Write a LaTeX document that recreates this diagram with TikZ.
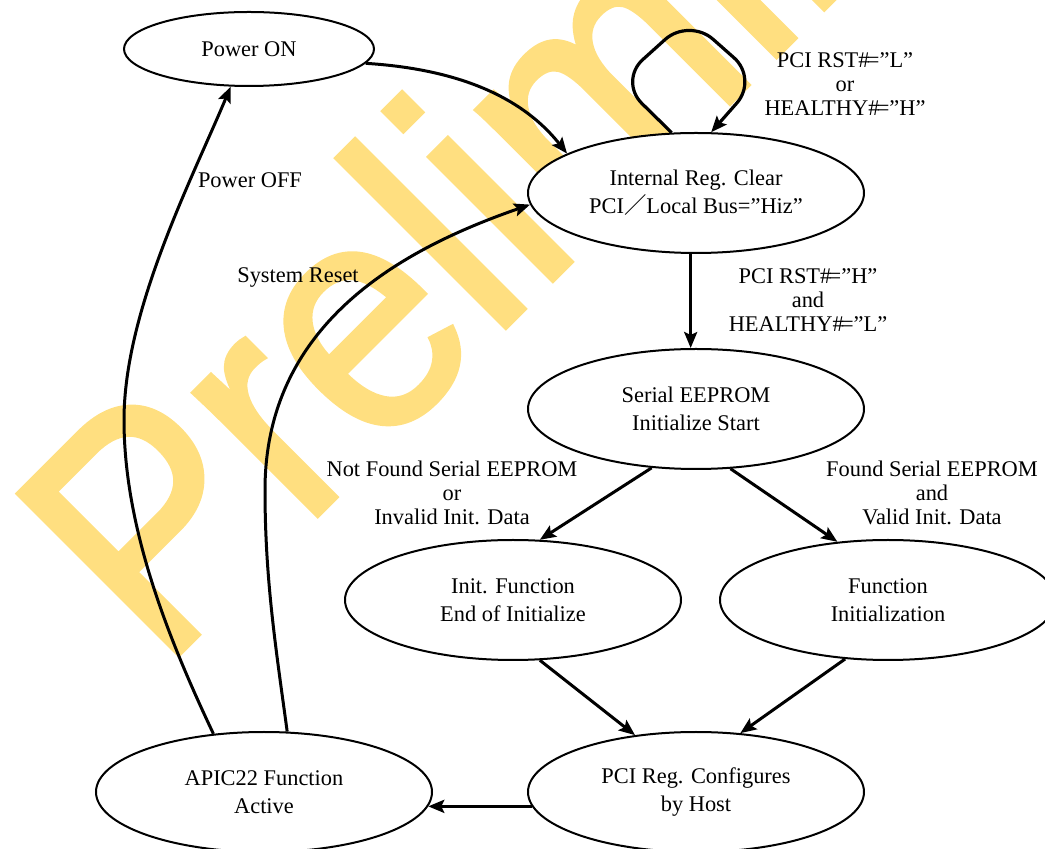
\documentclass[tikz,border=0pt]{standalone}
\usepackage{fontspec}
\usepackage{graphicx}
\setmainfont{Liberation Serif}
\newfontfamily\wmfont[FakeBold=1.5]{Liberation Sans}
\newfontfamily\cjkfont{Noto Sans CJK JP}
\usetikzlibrary{shapes.geometric,arrows.meta}
\definecolor{wmyellow}{RGB}{255,223,128}
% "#=" set tight, as in the signal names
\newcommand{\hasheq}{\#\kern-0.12em=}

\tikzset{
  state/.style={ellipse, draw, fill=white, line width=1pt,
    minimum width=168pt, minimum height=60pt, inner sep=0pt,
    align=center, font=\fontsize{11.2pt}{14pt}\selectfont},
  cond/.style={align=center, inner sep=0pt,
    font=\fontsize{11.2pt}{12pt}\selectfont},
  trans/.style={line width=1.5pt,
    -{Stealth[length=8pt,width=6.5pt,inset=1.5pt]}},
}

\begin{document}
\begin{tikzpicture}[x=0.5pt,y=-0.5pt]
\useasboundingbox (0,0) rectangle (1045,849);

% watermark
\begin{scope}
  \clip (0,0) rectangle (1045,849);
  \node[rotate=45, anchor=base west, inner sep=0pt, text=wmyellow]
    (wm) at (161,672)
    {\wmfont\fontsize{150pt}{150pt}\selectfont\scalebox{1}[1.1]{Preliminary}};
\end{scope}

% states
\node[state, minimum width=125pt, minimum height=37pt] (pon) at (249,49) {Power ON};
\node[state] (ireg)  at (696,193) {Internal Reg. Clear\\PCI{\cjkfont ／}Local Bus=”Hiz”};
\node[state] (seep)  at (696,409) {Serial EEPROM\\Initialize Start};
\node[state] (ifun)  at (513,600) {Init. Function\\End of Initialize};
\node[state] (finit) at (888,600) {Function\\Initialization};
\node[state] (pcir)  at (696,792) {PCI Reg. Configures\\by Host};
\node[state] (apic)  at (264,792) {APIC22 Function\\Active};

% transition conditions
\node[cond] (c1) at (845,84)  {PCI RST\hasheq”L”\\or\\HEALTHY\hasheq”H”};
\node[cond] (c2) at (808,300) {PCI RST\hasheq”H”\\and\\HEALTHY\hasheq”L”};
\node[cond] (c3) at (452,493) {Not Found Serial EEPROM\\or\\Invalid Init. Data};
\node[cond] (c4) at (932,493) {Found Serial EEPROM\\and\\Valid Init. Data};
\node[cond] (c5) at (250,180) {Power OFF};
\node[cond] (c6) at (298,278) {System Reset};

% transitions
\draw[trans] (pon.-7) .. controls (440,68) and (515,88) .. (ireg.163);
\draw[trans, line width=1.6pt, rounded corners=16pt]
  (ireg.112) -- (619,81) -- (689,18) -- (758,79) -- (ireg.76);
\draw[trans] (ireg.-95) -- (seep.95);
\draw[trans] (seep.-127) -- (ifun.66);
\draw[trans] (seep.-60) -- (finit.131);
\draw[trans] (ifun.-66) -- (pcir.137);
\draw[trans] (finit.-126) -- (pcir.53);
\draw[trans] (pcir.185) -- (apic.-5);
\draw[trans] (apic.131) .. controls (170,642) and (124,530) .. (124,420)
  .. controls (124,310) and (193,177) .. (pon.-116);
\draw[trans] (apic.69) .. controls (276,649) and (265,580) .. (265,490)
  .. controls (265,320) and (408,247) .. (ireg.184);
\end{tikzpicture}
\end{document}
